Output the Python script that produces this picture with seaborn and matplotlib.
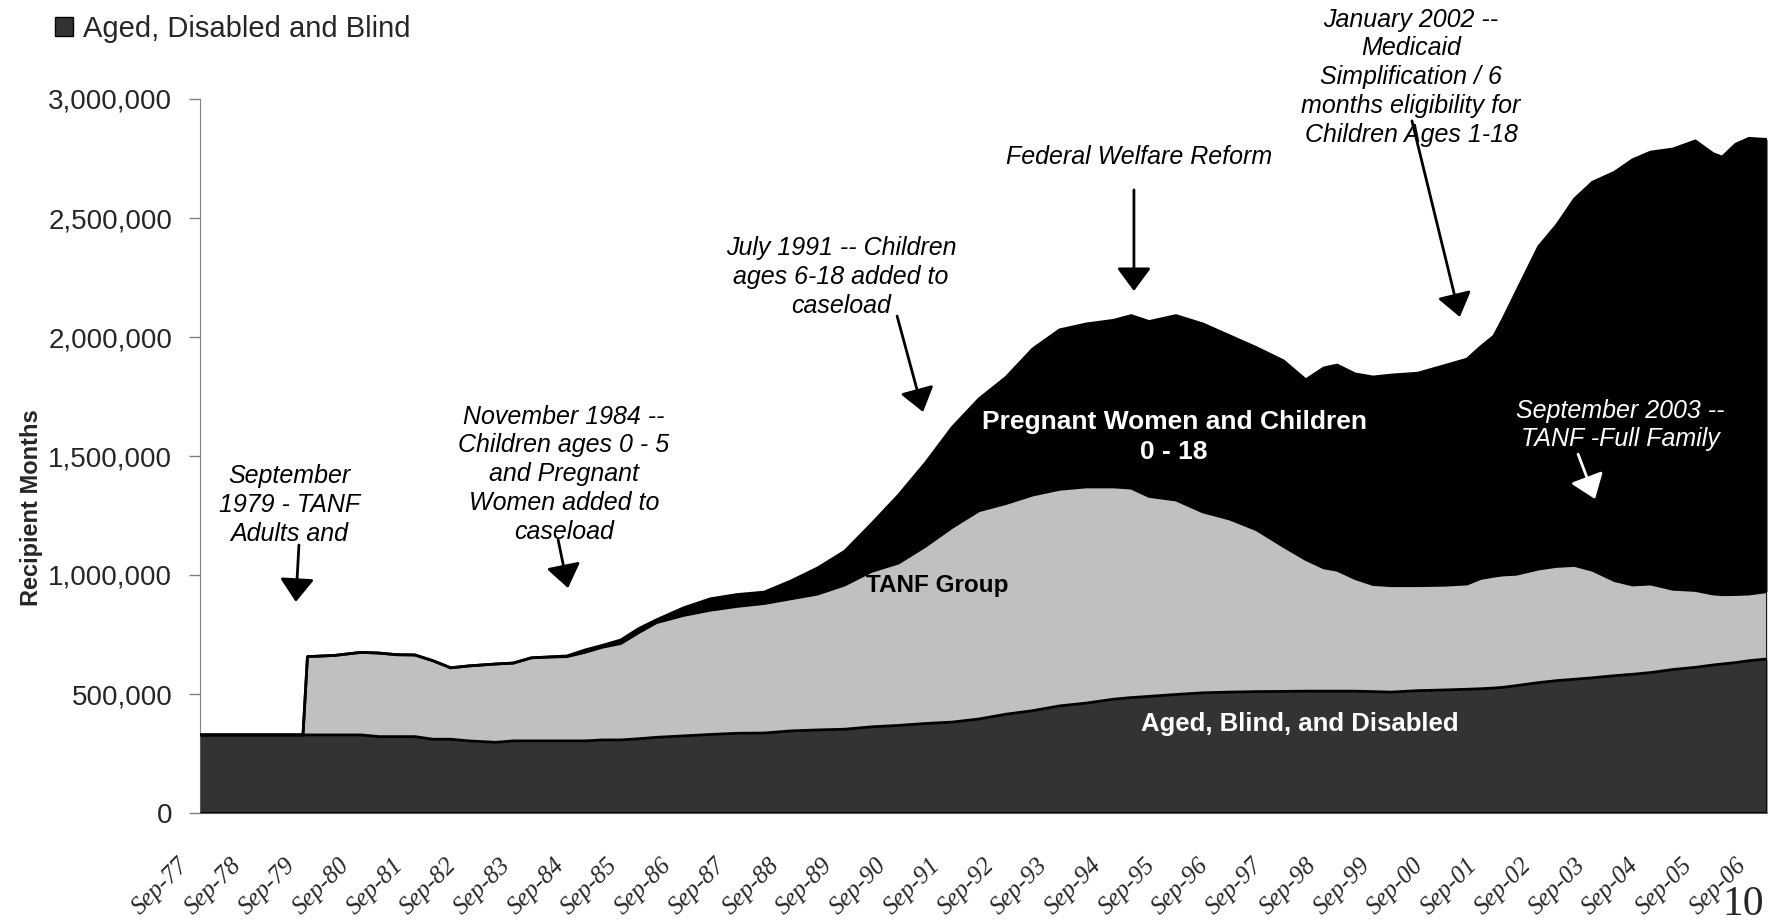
import numpy as np
import pandas as pd
import matplotlib
matplotlib.use("Agg")
import matplotlib.pyplot as plt
import matplotlib.transforms as mtransforms
from matplotlib.patches import Patch
from matplotlib.ticker import FuncFormatter
import seaborn as sns

# ---------------- data (values in thousands) ----------------
dates = ["1977-09", "1979-08", "1979-09", "1980-03", "1980-09", "1981-01", "1981-05", "1981-09",
         "1982-01", "1982-05", "1982-09", "1983-03", "1983-07", "1983-11", "1984-03", "1984-07",
         "1984-11", "1985-03", "1985-07", "1985-11", "1986-03", "1986-09", "1987-03", "1987-09",
         "1988-03", "1988-09", "1989-03", "1989-09", "1990-03", "1990-09", "1991-03", "1991-09",
         "1992-03", "1992-09", "1993-03", "1993-09", "1994-03", "1994-09", "1995-01", "1995-05",
         "1995-11", "1996-05", "1996-11", "1997-05", "1997-11", "1998-04", "1998-08", "1998-11",
         "1999-03", "1999-07", "1999-11", "2000-05", "2000-11", "2001-04", "2001-07", "2001-10",
         "2001-12", "2002-03", "2002-08", "2002-12", "2003-04", "2003-08", "2004-01", "2004-05",
         "2004-09", "2005-02", "2005-07", "2005-11", "2006-01", "2006-04", "2006-07", "2006-11"]

aged = [328, 328, 328, 328, 328, 321, 321, 321, 310, 310, 303, 297, 303, 303, 303, 303,
        303, 307, 307, 312, 318, 324, 330, 335, 336, 345, 349, 352, 362, 368, 376, 382,
        395, 415, 430, 450, 462, 478, 485, 490, 498, 505, 508, 510, 511, 512, 512, 512,
        512, 510, 508, 514, 517, 520, 522, 525, 528, 535, 548, 556, 562, 568, 577, 583,
        590, 603, 612, 622, 626, 632, 640, 647]

tanf = [0, 0, 329, 334, 347, 351, 344, 343, 330, 300, 315, 329, 327, 349, 352, 354,
        372, 390, 405, 446, 482, 506, 522, 533, 544, 555, 571, 606, 653, 682, 744, 818,
        875, 885, 906, 910, 908, 892, 880, 840, 817, 760, 727, 680, 609, 553, 518, 508,
        473, 450, 447, 441, 440, 442, 463, 470, 472, 468, 477, 480, 478, 452, 399, 375,
        372, 337, 323, 298, 291, 286, 280, 283]

pregnant_children = [0, 0, 0, 0, 0, 0, 0, 0, 0, 0, 0, 0, 0, 0, 1, 3,
                     10, 8, 15, 17, 12, 32, 48, 50, 48, 75, 110, 142, 200, 285, 350, 420,
                     470, 530, 614, 670, 685, 700, 725, 735, 775, 790, 770, 765, 780, 755, 840, 862,
                     860, 872, 885, 893, 923, 945, 973, 1009, 1075, 1187, 1355, 1434, 1540, 1630, 1717, 1787,
                     1815, 1850, 1889, 1850, 1839, 1892, 1915, 1900]

tick_labels = ["Sep-77", "Sep-78", "Sep-79", "Sep-80", "Sep-81", "Sep-82", "Sep-83", "Sep-84",
               "Sep-85", "Sep-86", "Sep-87", "Sep-88", "Sep-89", "Sep-90", "Sep-91", "Sep-92",
               "Sep-93", "Sep-94", "Sep-95", "Sep-96", "Sep-97", "Sep-98", "Sep-99", "Sep-00",
               "Sep-01", "Sep-02", "Sep-03", "Sep-04", "Sep-05", "Sep-06"]

# ---------------- build table ----------------
df = pd.DataFrame({"date": pd.to_datetime(dates, format="%Y-%m"),
                   "aged": np.array(aged) * 1000,
                   "tanf": np.array(tanf) * 1000,
                   "pwc": np.array(pregnant_children) * 1000})
df["m"] = (df["date"].dt.year - 1977) * 12 + (df["date"].dt.month - 9)
df["a_top"] = df["aged"]
df["t_top"] = df["a_top"] + df["tanf"]
df["p_top"] = df["t_top"] + df["pwc"]

sns.set_style("white")
plt.rcParams["font.family"] = ["Liberation Sans", "DejaVu Sans"]

W, H = 1770, 924
fig = plt.figure(figsize=(W / 100, H / 100), dpi=100)
ax = fig.add_axes([200 / W, 1 - 813 / H, 1567 / W, 714 / H])

# stacked areas
ax.fill_between(df["m"], df["t_top"], df["p_top"], facecolor="#000000", lw=0, zorder=1)
ax.fill_between(df["m"], df["a_top"], df["t_top"], facecolor="#C0C0C0", lw=0, zorder=2)
ax.fill_between(df["m"], 0, df["a_top"], facecolor="#333333", lw=0, zorder=3)

# outlines
sns.lineplot(data=df, x="m", y="a_top", color="black", lw=2, ax=ax, zorder=4, legend=False)
sns.lineplot(data=df, x="m", y="t_top", color="black", lw=2, ax=ax, zorder=4, legend=False)
sns.lineplot(data=df, x="m", y="p_top", color="black", lw=2, ax=ax, zorder=4, legend=False)
last = df.iloc[-1]
ax.vlines(last["m"], 0, last["p_top"], color="black", lw=2, zorder=5)
ax.hlines(0, 0, last["m"], color="black", lw=2, zorder=5)

ax.set_xlim(0, 350)
ax.set_ylim(0, 3000000)
ax.set_xlabel("")
ax.set_ylabel("")

# y axis
ax.set_yticks(np.arange(0, 3000001, 500000))
ax.yaxis.set_major_formatter(FuncFormatter(lambda v, p: f"{v:,.0f}"))
ax.tick_params(axis="y", length=8, width=1, color="#808080", pad=12, labelsize=20,
               direction="out", left=True)
for s in ["top", "right"]:
    ax.spines[s].set_visible(False)
ax.spines["left"].set_color("#808080")
ax.spines["bottom"].set_color("#808080")

# x axis
ax.set_xticks(np.arange(0, 349, 12))
ax.set_xticklabels(tick_labels, rotation=45, ha="right", va="top",
                   fontfamily="Liberation Serif", fontstyle="italic", fontsize=18)
ax.tick_params(axis="x", length=0, pad=29.5)
offset = mtransforms.ScaledTranslation(-7.5 / 100, 0, fig.dpi_scale_trans)
for lbl in ax.get_xticklabels():
    lbl.set_transform(lbl.get_transform() + offset)

# y label
fig.text(32 / W, 1 - 508 / H, "Recipient Months", rotation=90, ha="center", va="center",
         fontsize=17, fontweight="bold")

# legend
fig.legend(handles=[Patch(facecolor="#333333", edgecolor="black", lw=1)],
           labels=["Aged, Disabled and Blind"], loc="center left",
           bbox_to_anchor=(55 / W, 1 - 29 / H), frameon=False, fontsize=21,
           handlelength=0.6, handleheight=0.6, handletextpad=0.35,
           borderaxespad=0, borderpad=0)

# in-area labels
ax.text(217.6, 1580000, "Pregnant Women and Children\n0 - 18", color="white", fontsize=19,
        fontweight="bold", ha="center", va="center", zorder=6, linespacing=1.3)
ax.text(164.6, 954000, "TANF Group", color="black", fontsize=17.5, fontweight="bold",
        ha="center", va="center", zorder=6)
ax.text(245.7, 374000, "Aged, Blind, and Disabled", color="white", fontsize=18.5,
        fontweight="bold", ha="center", va="center", zorder=6)

# annotations
def arrow(start, tip, color="black"):
    ax.annotate("", xy=tip, xytext=start,
                arrowprops=dict(arrowstyle="-|>,head_length=0.65,head_width=0.48",
                                mutation_scale=22, lw=2, color=color,
                                shrinkA=0, shrinkB=0),
                annotation_clip=False, zorder=7)

notes = [
    ("September\n1979 - TANF\nAdults and", (19.9, 1294000), (22.1, 1126000), (21.4, 887000), "black"),
    ("November 1984 --\nChildren ages 0 - 5\nand Pregnant\nWomen added to\ncaseload",
     (81.3, 1424000), (80.0, 1147000), (82.2, 945000), "black"),
    ("July 1991 -- Children\nages 6-18 added to\ncaseload", (143.2, 2252000), (155.7, 2088000),
     (161.5, 1685000), "black"),
    ("Federal Welfare Reform", (209.7, 2756000), (208.6, 2618000), (208.6, 2193000), "black"),
    ("January 2002 --\nMedicaid\nSimplification / 6\nmonths eligibility for\nChildren Ages 1-18",
     (270.5, 3092000), (270.7, 2908000), (281.4, 2084000), "black"),
    ("September 2003 --\nTANF -Full Family", (317.2, 1630000), (307.8, 1508000),
     (311.6, 1319000), "white"),
]
for txt, pos, start, tip, col in notes:
    ax.text(pos[0], pos[1], txt, ha="center", va="center", fontsize=18, fontstyle="italic",
            color=col, zorder=7, clip_on=False, linespacing=1.25)
    arrow(start, tip, col)

# page number
fig.text(1743 / W, 1 - 905 / H, "10", ha="center", va="center", fontsize=30,
         fontfamily="Liberation Serif")

fig.savefig("out.png", dpi=100)
